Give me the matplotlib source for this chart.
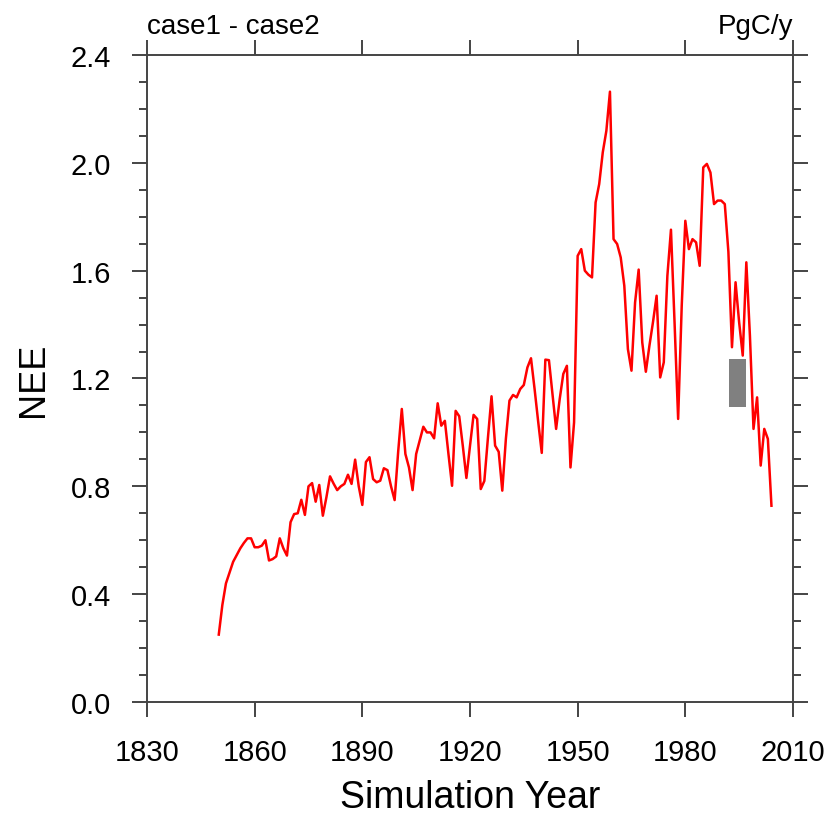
import numpy as np
import matplotlib.pyplot as plt
from matplotlib.patches import Rectangle
from matplotlib.ticker import MultipleLocator

plt.rcParams['font.family'] = ['Liberation Sans', 'DejaVu Sans']

# annual NEE difference, case1 - case2 (PgC/y)
years = np.arange(1850, 2005)
nee = [
    0.25, 0.36, 0.44, 0.48, 0.52, 0.545, 0.57, 0.59, 0.607, 0.607,      # 1850s
    0.574, 0.574, 0.58, 0.60, 0.525, 0.53, 0.54, 0.607, 0.57, 0.543,    # 1860s
    0.667, 0.697, 0.70, 0.75, 0.694, 0.80, 0.812, 0.743, 0.805, 0.691,  # 1870s
    0.76, 0.837, 0.81, 0.786, 0.80, 0.809, 0.843, 0.809, 0.899, 0.80,   # 1880s
    0.731, 0.89, 0.908, 0.827, 0.815, 0.821, 0.867, 0.86, 0.80, 0.749,  # 1890s
    0.93, 1.087, 0.92, 0.87, 0.786, 0.92, 0.97, 1.021, 1.0, 1.0,        # 1900s
    0.978, 1.108, 1.025, 1.043, 0.92, 0.802, 1.08, 1.06, 0.95, 0.831,   # 1910s
    0.95, 1.065, 1.05, 0.79, 0.82, 0.98, 1.134, 0.951, 0.928, 0.784,    # 1920s
    0.976, 1.118, 1.139, 1.13, 1.161, 1.176, 1.241, 1.275, 1.161, 1.04, # 1930s
    0.924, 1.27, 1.268, 1.14, 1.013, 1.124, 1.217, 1.247, 0.87, 1.037,  # 1940s
    1.655, 1.68, 1.6, 1.585, 1.575, 1.853, 1.921, 2.039, 2.119, 2.264,  # 1950s
    1.717, 1.699, 1.649, 1.544, 1.309, 1.229, 1.482, 1.604, 1.334, 1.225,  # 1960s
    1.322, 1.41, 1.507, 1.204, 1.26, 1.581, 1.752, 1.408, 1.05, 1.47,   # 1970s
    1.785, 1.68, 1.717, 1.705, 1.618, 1.983, 1.996, 1.964, 1.847, 1.86, # 1980s
    1.86, 1.847, 1.67, 1.316, 1.557, 1.408, 1.285, 1.631, 1.359, 1.013, # 1990s
    1.13, 0.877, 1.013, 0.976, 0.728,                                   # 2000s
]

# grey box seen in the reference (year range, value range)
box_x = [1992.2, 1996.8]
box_y = [1.095, 1.272]

xticks = [1830, 1860, 1890, 1920, 1950, 1980, 2010]
yticks = [0.0, 0.4, 0.8, 1.2, 1.6, 2.0, 2.4]

fig = plt.figure(figsize=(8.3, 8.2), dpi=100)
ax = fig.add_axes([0.1771, 0.1427, 0.7783, 0.789])

ax.plot(years, nee, color='red', lw=1.8)
ax.add_patch(Rectangle((box_x[0], box_y[0]), box_x[1] - box_x[0],
                       box_y[1] - box_y[0], color='#808080', lw=0))

ax.set_xlim(1830, 2010)
ax.set_ylim(0, 2.4)
ax.set_xticks(xticks)
ax.set_yticks(yticks)
ax.set_yticklabels(["{:.1f}".format(v) for v in yticks])
ax.yaxis.set_minor_locator(MultipleLocator(0.1))

edge = '#444444'
for sp in ax.spines.values():
    sp.set_color(edge)
    sp.set_linewidth(1.4)
ax.tick_params(which='both', direction='out', top=True, right=True,
               color=edge, width=1.4, labelsize=21)
ax.tick_params(which='major', length=11, pad=15)
ax.tick_params(which='minor', length=6)

ax.set_xlabel("Simulation Year", fontsize=27, labelpad=9)
ax.set_ylabel("NEE", fontsize=26, labelpad=14)
ax.set_title("case1 - case2", loc='left', fontsize=20, pad=16)
ax.set_title("PgC/y", loc='right', fontsize=20, pad=16)

fig.savefig("out.png", dpi=100)
